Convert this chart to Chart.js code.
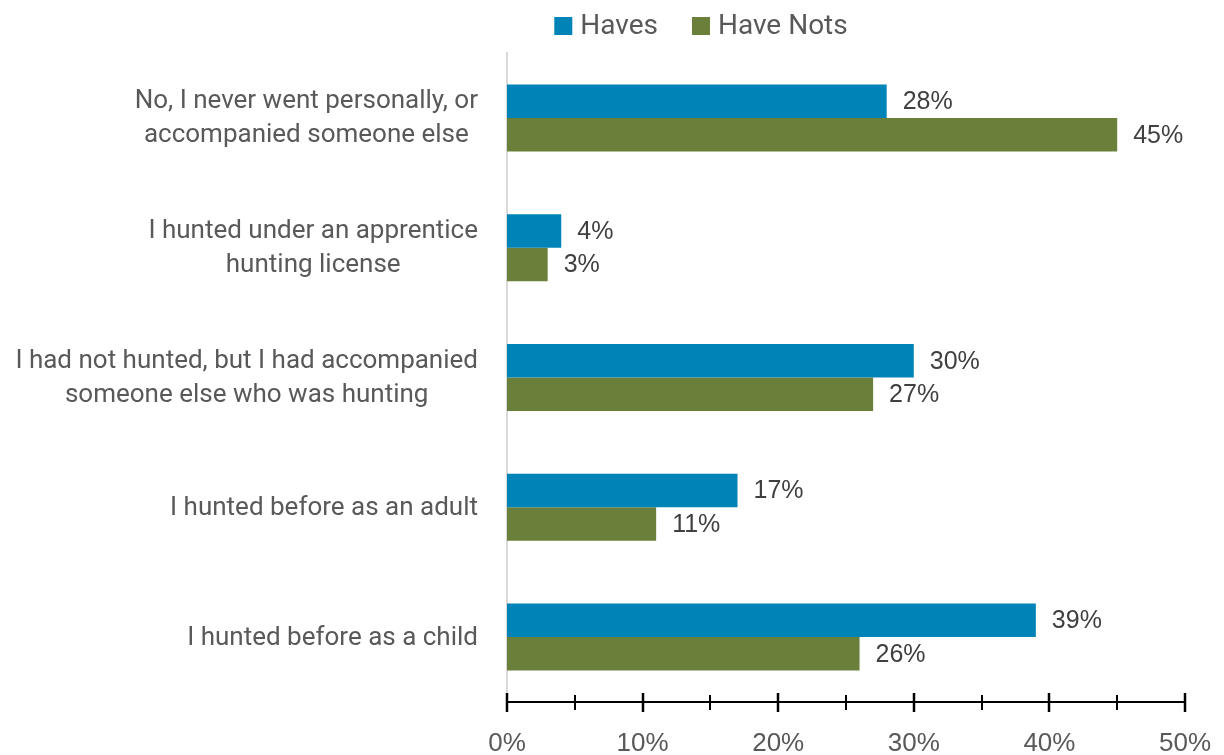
<!DOCTYPE html>
<html>
<head>
<meta charset="utf-8">
<script src="https://cdn.jsdelivr.net/npm/chart.js@4/dist/chart.umd.min.js"></script>
<style>
  html, body { margin: 0; padding: 0; background: #ffffff; }
  #wrap { width: 1224px; height: 755px; position: relative; }
</style>
</head>
<body>
<div id="wrap"><canvas id="c" width="1224" height="755"></canvas></div>
<script>
// Survey responses: prior hunting experience, by group (percent)
const categories = [
  ['No, I never went personally, or', 'accompanied someone else'],
  ['I hunted under an apprentice', 'hunting license'],
  ['I had not hunted, but I had accompanied', 'someone else who was hunting'],
  'I hunted before as an adult',
  'I hunted before as a child'
];
const seriesNames = ['Haves', 'Have Nots'];
const havesValues = [28, 4, 30, 17, 39];
const haveNotsValues = [45, 3, 27, 11, 26];
const xTickValues = [0, 10, 20, 30, 40, 50];

const TEXT_FONT = 'Roboto, "Open Sans", sans-serif';
const NUM_FONT = '"Liberation Sans", Arial, sans-serif';
const COLORS = ['#0083b6', '#6a803a'];

// Horizontal axis line with tick marks crossing it (major every 10, minor every 5)
const axisPlugin = {
  id: 'crossAxis',
  afterDatasetsDraw(chart) {
    const ctx = chart.ctx;
    const xs = chart.scales.x;
    const y = chart.chartArea.bottom;
    ctx.save();
    ctx.strokeStyle = '#000000';
    ctx.lineWidth = 2;
    ctx.beginPath();
    ctx.moveTo(xs.getPixelForValue(0), y);
    ctx.lineTo(xs.getPixelForValue(50), y);
    ctx.stroke();
    for (let v = 0; v <= 50; v += 5) {
      const x = Math.round(xs.getPixelForValue(v));
      const major = v % 10 === 0;
      const up = major ? 9 : 7;
      const down = major ? 10 : 8;
      ctx.lineWidth = major ? 2.5 : 2;
      ctx.beginPath();
      ctx.moveTo(x, y - up);
      ctx.lineTo(x, y + down);
      ctx.stroke();
    }
    ctx.restore();
  }
};

// Category labels: each block right-aligned to the axis, lines centred within the block
const categoryLabelPlugin = {
  id: 'categoryLabels',
  afterDraw(chart) {
    const ctx = chart.ctx;
    const ys = chart.scales.y;
    const right = chart.chartArea.left - 29;
    const lineH = 34;
    ctx.save();
    ctx.font = '26px ' + TEXT_FONT;
    ctx.fillStyle = '#595959';
    ctx.textAlign = 'center';
    ctx.textBaseline = 'middle';
    categories.forEach((lab, i) => {
      const lines = Array.isArray(lab) ? lab : [lab];
      const w = Math.max(...lines.map(l => ctx.measureText(l).width));
      const cx = right - w / 2;
      const cy = ys.getPixelForTick(i);
      const y0 = cy - (lines.length - 1) * lineH / 2;
      lines.forEach((l, k) => ctx.fillText(l, cx, y0 + k * lineH + 1));
    });
    ctx.restore();
  }
};

// Value labels at the end of each bar
const valueLabelPlugin = {
  id: 'valueLabels',
  afterDatasetsDraw(chart) {
    const ctx = chart.ctx;
    ctx.save();
    ctx.font = '25px ' + NUM_FONT;
    ctx.fillStyle = '#404040';
    ctx.textAlign = 'left';
    ctx.textBaseline = 'middle';
    chart.data.datasets.forEach((ds, di) => {
      chart.getDatasetMeta(di).data.forEach((bar, i) => {
        ctx.fillText(ds.data[i] + '%', bar.x + 16, bar.y + 1);
      });
    });
    ctx.restore();
  }
};

// Legend row above the plot
const legendPlugin = {
  id: 'topLegend',
  afterDraw(chart) {
    const ctx = chart.ctx;
    ctx.save();
    ctx.font = '28px ' + TEXT_FONT;
    ctx.textBaseline = 'middle';
    ctx.textAlign = 'left';
    const box = 18, gapText = 8, gapItem = 34, yMid = 26;
    let total = 0;
    seriesNames.forEach((n, i) => {
      total += box + gapText + ctx.measureText(n).width + (i < seriesNames.length - 1 ? gapItem : 0);
    });
    let x = 701 - total / 2;
    seriesNames.forEach((n, i) => {
      ctx.fillStyle = COLORS[i];
      ctx.fillRect(x, yMid - box / 2, box, box);
      x += box + gapText;
      ctx.fillStyle = '#595959';
      ctx.fillText(n, x, yMid + 1);
      x += ctx.measureText(n).width + gapItem;
    });
    ctx.restore();
  }
};

new Chart(document.getElementById('c'), {
  type: 'bar',
  data: {
    labels: categories,
    datasets: [
      { label: seriesNames[0], data: havesValues, backgroundColor: COLORS[0], borderWidth: 0 },
      { label: seriesNames[1], data: haveNotsValues, backgroundColor: COLORS[1], borderWidth: 0 }
    ]
  },
  options: {
    indexAxis: 'y',
    responsive: false,
    animation: false,
    maintainAspectRatio: false,
    layout: { padding: { top: 53, right: 39, bottom: 0, left: 0 } },
    datasets: { bar: { categoryPercentage: 0.516, barPercentage: 1.0 } },
    plugins: {
      legend: { display: false },
      tooltip: { enabled: false }
    },
    scales: {
      x: {
        min: 0,
        max: 50,
        afterBuildTicks(scale) { scale.ticks = xTickValues.map(v => ({ value: v })); },
        afterFit(scale) {
          scale.height = 53;
          scale.paddingLeft = 0;
          scale.paddingRight = 0;
        },
        grid: { display: false, drawTicks: false },
        border: { display: false },
        ticks: {
          padding: 26,
          color: '#595959',
          font: { family: NUM_FONT, size: 26 },
          callback: v => v + '%'
        }
      },
      y: {
        afterFit(scale) {
          scale.width = 507;
          scale.paddingTop = 0;
          scale.paddingBottom = 0;
        },
        grid: { display: false, drawTicks: false },
        border: { display: true, color: '#d9d9d9', width: 2 },
        ticks: { display: false }
      }
    }
  },
  plugins: [axisPlugin, valueLabelPlugin, categoryLabelPlugin, legendPlugin]
});
</script>
</body>
</html>
